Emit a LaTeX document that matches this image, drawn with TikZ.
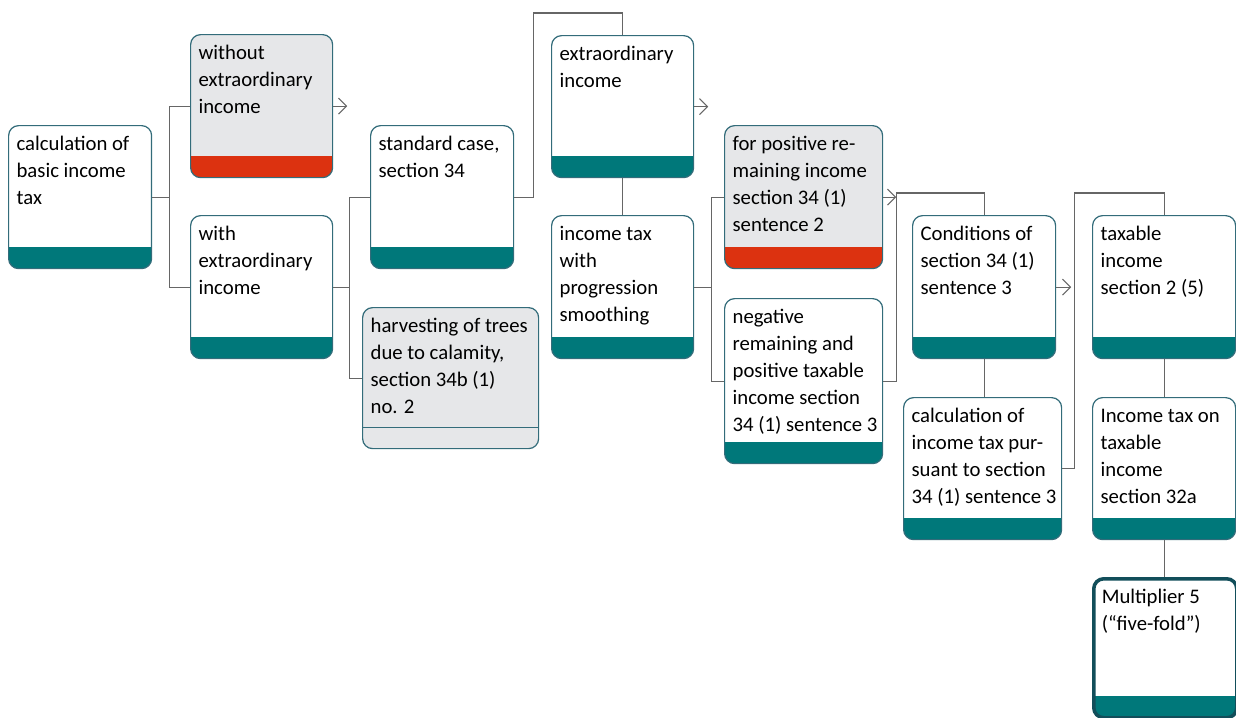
\documentclass[tikz,border=0pt]{standalone}
\usepackage{fontspec}
\setmainfont{Carlito}
\usetikzlibrary{positioning,arrows.meta}
\definecolor{bandteal}{HTML}{00787A}
\definecolor{bandred}{HTML}{DC3210}
\definecolor{cardgrey}{HTML}{E6E7E9}
\definecolor{cardedge}{HTML}{336C7A}
\definecolor{cardstrong}{HTML}{124E5A}
\definecolor{linkgrey}{HTML}{666666}
\newlength{\unitpx}
\setlength{\unitpx}{0.02cm}
\newcommand{\cardtext}[3]{\parbox[t][\dimexpr#2\unitpx-12\unitpx\relax][t]{\dimexpr#1\unitpx-16\unitpx\relax}{\begin{tabular}[t]{@{}l@{}}#3\end{tabular}}}

\begin{document}
\begin{tikzpicture}[x=0.02cm, y=-0.02cm,
    font=\fontsize{11.8}{15.4}\selectfont,
    band/.style={path picture={\fill[#1, sharp corners] (path picture bounding box.south west) rectangle ([yshift=.44cm]path picture bounding box.south east);}},
    ruled/.style={path picture={\draw[cardedge, line width=.6pt, sharp corners] ([yshift=.42cm]path picture bounding box.south west) -- ([yshift=.42cm]path picture bounding box.south east);}},
    card/.style={draw=cardedge, line width=.7pt, rounded corners=.2cm, fill=white, anchor=north west, inner xsep=.16cm, inner ysep=.12cm, band=bandteal},
    shaded/.style={card, fill=cardgrey, band=bandred},
    link/.style={draw=linkgrey, line width=.6pt},
    pointer/.style={link, -{Straight Barb[length=1.6mm,width=3.2mm]}}]
  \useasboundingbox (0,0) rectangle (1236,717);
  % first column
  \node[card] (basic) at (8,125) {\cardtext{143}{143}{calculation of\\basic income\\tax}};
  \node[shaded] (without) at (190,34) {\cardtext{142}{143}{without\\extraordinary\\income}};
  \node[card] (with) at (190,215) {\cardtext{142}{143}{with\\extraordinary\\income}};
  \node[card] (standard) at (370,125) {\cardtext{143}{143}{standard case,\\section 34}};
  \node[card, fill=cardgrey, ruled] (harvest) at (362,307) {\cardtext{176}{141}{harvesting of trees\\due to calamity,\\section 34b (1)\\no. 2}};
  \node[card] (extra) at (551,35) {\cardtext{142}{142}{extraordinary\\income}};
  \node[card] (smoothing) at (551,215) {\cardtext{142}{143}{income tax\\with\\progression\\smoothing}};
  \node[shaded] (positive) at (724,125) {\cardtext{158}{143}{for positive re-\\maining income\\section 34 (1)\\sentence 2}};
  \node[card] (negative) at (724,298) {\cardtext{158}{165}{negative\\remaining and\\positive taxable\\income section\\34 (1) sentence 3}};
  \node[card] (conditions) at (912,215) {\cardtext{143}{143}{Conditions of\\section 34 (1)\\sentence 3}};
  \node[card] (pursuant) at (903,397) {\cardtext{158}{142}{calculation of\\income tax pur-\\suant to section\\34 (1) sentence 3}};
  \node[card] (taxable) at (1092,215) {\cardtext{143}{143}{taxable\\income\\section 2 (5)}};
  \node[card] (ontaxable) at (1092,397) {\cardtext{143}{142}{Income tax on\\taxable\\income\\section 32a}};
  \node[card, draw=cardstrong, line width=2pt] (multiplier) at (1092,577) {\cardtext{143}{139}{Multiplier 5\\(``five-fold'')}};
  % connectors
  \draw[link] (basic.east) -- ++(17,0) |- (without.west);
  \draw[link] (basic.east) -- ++(17,0) |- (with.west);
  \draw[pointer] (without.east) -- ++(14,0);
  \draw[link] (with.east) -- ++(16,0) |- (standard.west);
  \draw[link] (with.east) -- ++(16,0) |- (harvest.west);
  \draw[link] (standard.east) -- ++(19,0) |- ([yshift=.44cm]extra.north) -- (extra.north);
  \draw[pointer] (extra.east) -- ++(14,0);
  \draw[link] (extra.south) -- (smoothing.north);
  \draw[link] (smoothing.east) -- ++(17,0) |- (positive.west);
  \draw[link] (smoothing.east) -- ++(17,0) |- (negative.west);
  \draw[pointer] (positive.east) -- ++(13,0);
  \draw[link] (negative.east) -- ++(13,0) |- ([yshift=.44cm]conditions.north) -- (conditions.north);
  \draw[pointer] (conditions.east) -- ++(15,0);
  \draw[link] (conditions.south) -- (conditions.south |- pursuant.north);
  \draw[link] (pursuant.east) -- ++(12,0) |- ([yshift=.44cm]taxable.north) -- (taxable.north);
  \draw[link] (taxable.south) -- (ontaxable.north);
  \draw[link] (ontaxable.south) -- (ontaxable.south |- multiplier.north);
\end{tikzpicture}
\end{document}
